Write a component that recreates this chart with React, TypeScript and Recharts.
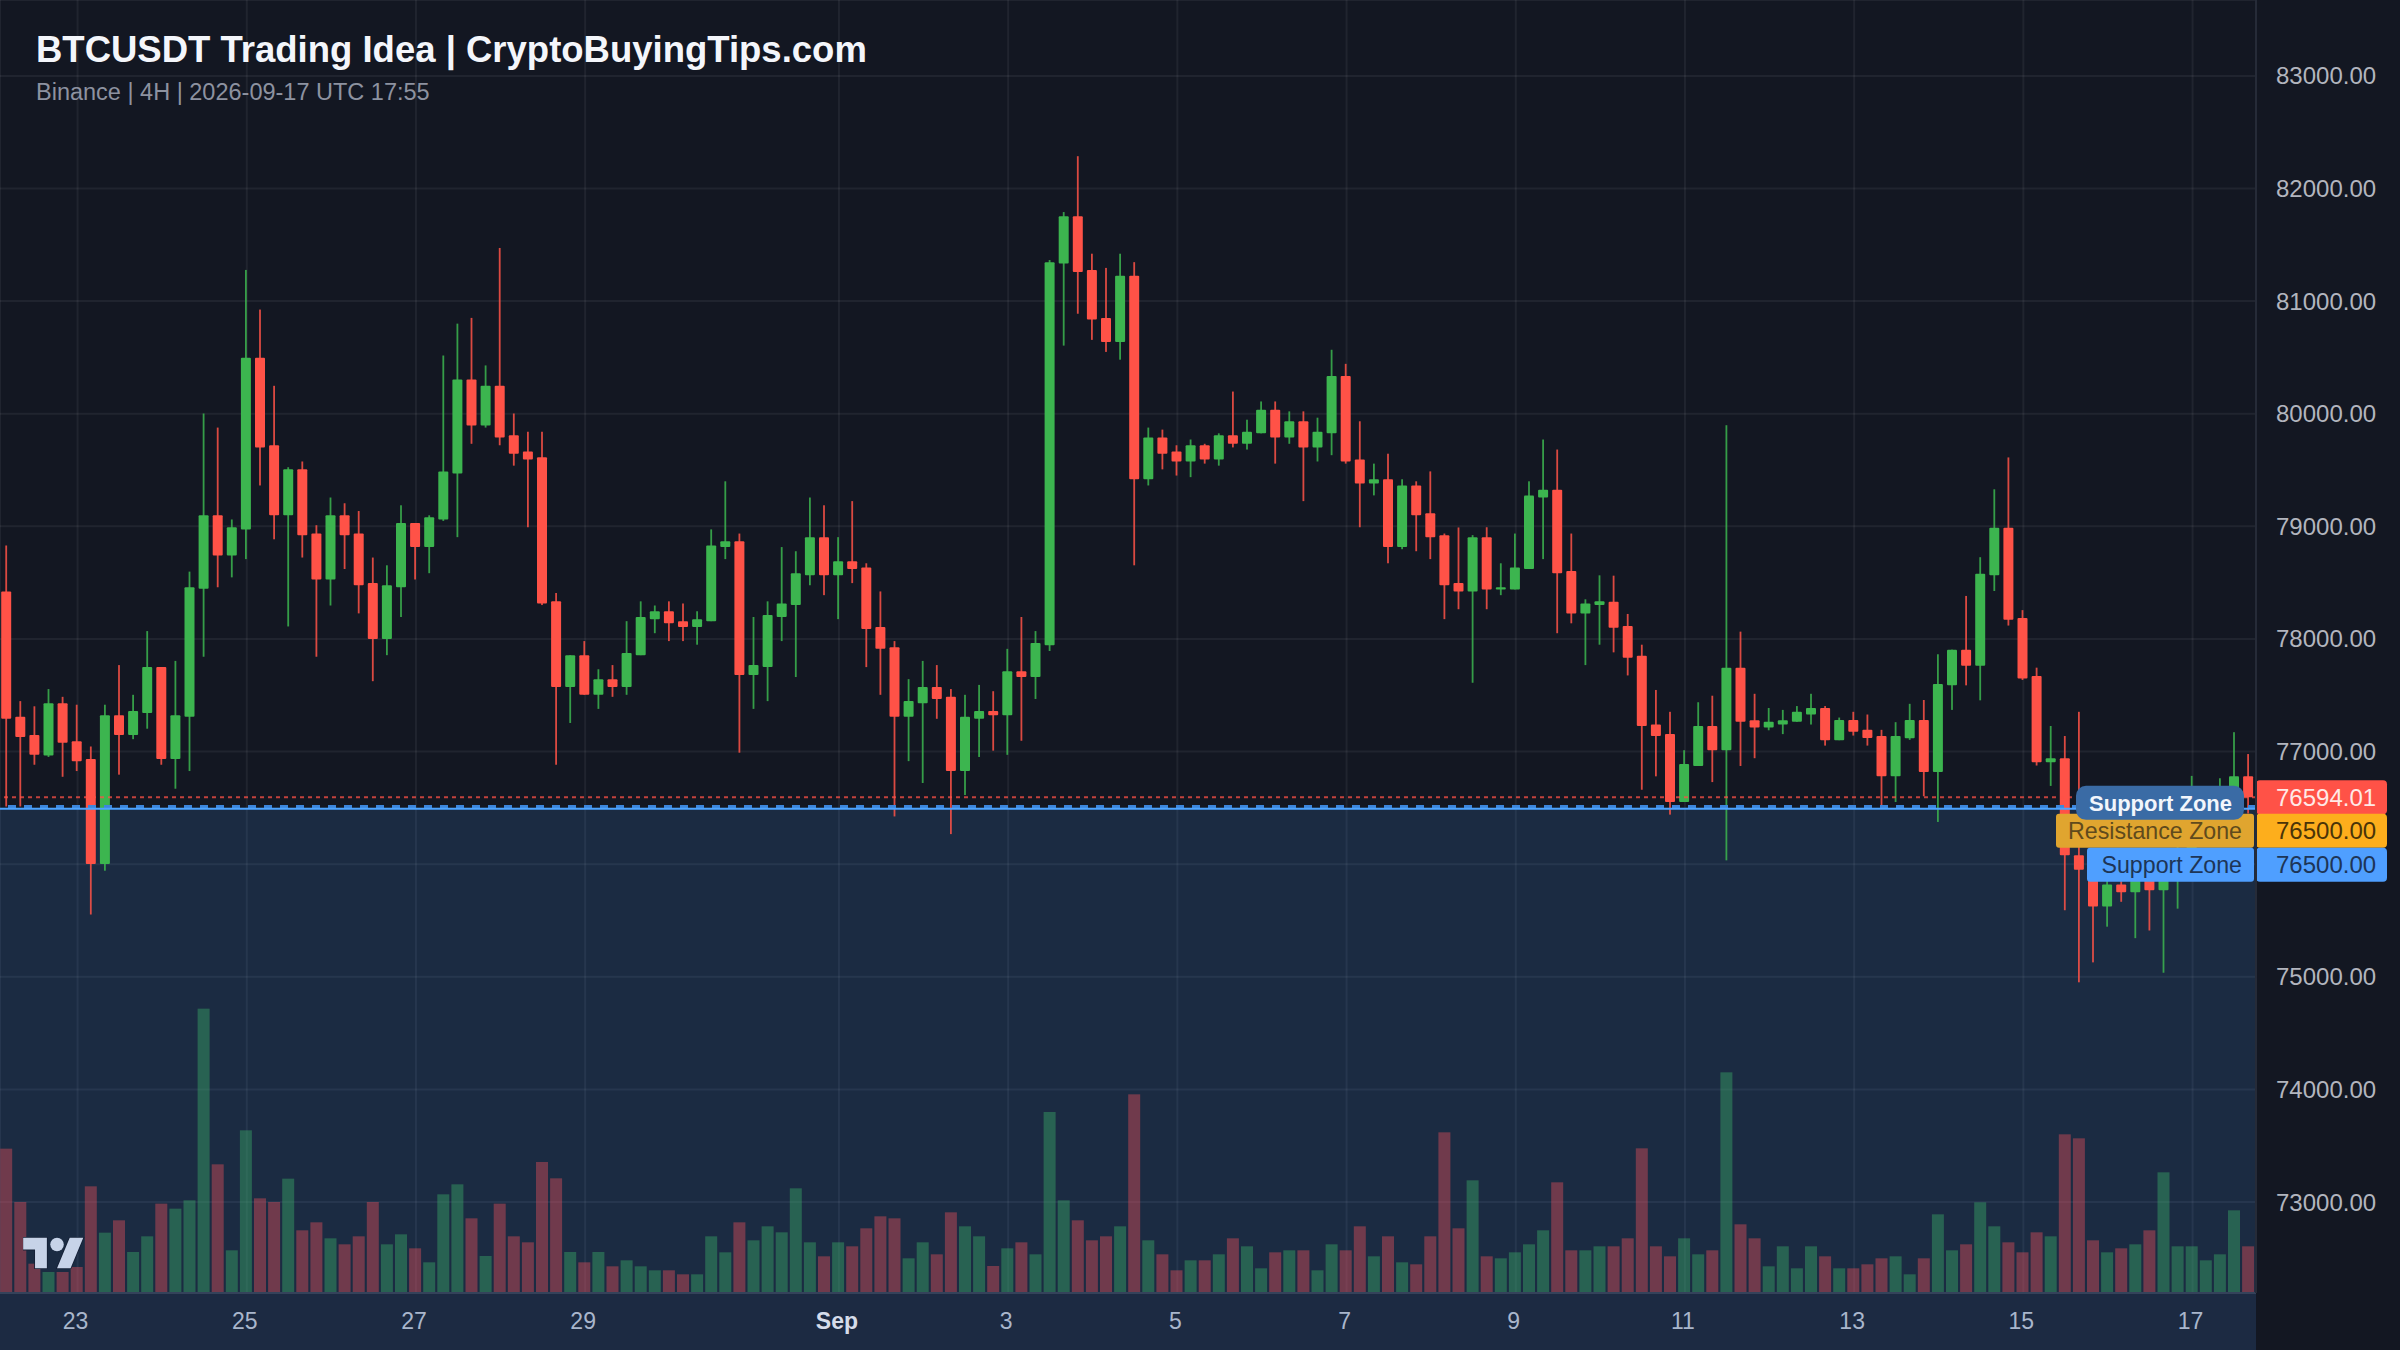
import { Bar, CartesianGrid, ComposedChart, ReferenceArea, ReferenceLine, XAxis, YAxis } from "recharts";

const openPrices = [
  78422, 77309, 77147, 76966, 77430, 77092, 76934, 76002, 77323, 77147,
  77342, 77750, 76934, 77309, 78445, 79098, 78742, 78973, 80498, 79720,
  79098, 79506, 78936, 78528, 79098, 78936, 78496, 78000, 78459, 79029,
  78816, 79061, 79469, 80304, 79896, 80248, 79808, 79664, 79613, 78334,
  77574, 77856, 77504, 77643, 77574, 77856, 78176, 78246, 78158, 78107,
  78158, 78816, 78867, 77680, 77750, 78195, 78301, 78565, 78904, 78565,
  78691, 78635, 78107, 77926, 77309, 77430, 77574, 77486, 76827, 77291,
  77360, 77323, 77713, 77662, 77944, 81333, 81754, 81277, 80851, 80637,
  81226, 79418, 79789, 79664, 79576, 79720, 79594, 79808, 79733, 79826,
  80035, 79789, 79933, 79701, 79826, 80336, 79594, 79381, 79418, 78816,
  79363, 79117, 78922, 78496, 78422, 78904, 78440, 78440, 78621, 79256,
  79326, 78603, 78227, 78301, 78331, 78116, 77850, 77240, 77155, 76552,
  76872, 77227, 77012, 77745, 77278, 77213, 77240, 77264, 77329, 77387,
  77101, 77281, 77193, 77138, 76780, 77118, 77281, 76818, 77588, 77905,
  77762, 78566, 78988, 78187, 77670, 76906, 76941, 76080, 75950, 75625,
  75820, 75751, 75900, 75769, 75900, 76050, 76450, 76520, 76560, 76780,
];
const closePrices = [
  77291, 77129, 76971, 77430, 77078, 76915, 76002, 77323, 77147, 77360,
  77750, 76934, 77323, 78459, 79098, 78742, 78992, 80498, 79701, 79098,
  79506, 78922, 78528, 79098, 78922, 78477, 78000, 78477, 79029, 78816,
  79080, 79488, 80304, 79896, 80248, 79789, 79645, 79594, 78315, 77574,
  77856, 77504, 77643, 77574, 77875, 78195, 78246, 78139, 78107, 78176,
  78830, 78867, 77680, 77768, 78213, 78315, 78584, 78904, 78565, 78691,
  78621, 78088, 77912, 77309, 77448, 77574, 77467, 76827, 77309, 77360,
  77323, 77713, 77662, 77963, 81346, 81754, 81258, 80837, 80637, 81226,
  79418, 79789, 79645, 79576, 79720, 79594, 79808, 79733, 79840, 80035,
  79789, 79933, 79701, 79840, 80336, 79576, 79381, 79418, 78816, 79363,
  79098, 78904, 78477, 78422, 78904, 78440, 78459, 78635, 79275, 79326,
  78584, 78227, 78315, 78334, 78099, 77833, 77227, 77138, 76552, 76889,
  77227, 77012, 77745, 77264, 77213, 77264, 77278, 77353, 77387, 77101,
  77281, 77176, 77121, 76780, 77138, 77281, 76818, 77601, 77905, 77762,
  78579, 78988, 78170, 77649, 76906, 76941, 76080, 75950, 75625, 75820,
  75751, 75900, 75769, 75900, 76050, 76450, 76520, 76560, 76780, 76594.01,
];
const highPrices = [
  78830, 77448, 77402, 77555, 77486, 77416, 77045, 77416, 77768, 77504,
  78070, 77750, 77805, 78598, 80002, 79877, 79061, 81277, 80925, 80248,
  79525, 79576, 79010, 79256, 79205, 79136, 78723, 78654, 79187, 79029,
  79098, 80517, 80800, 80851, 80429, 81472, 80002, 79840, 79840, 78408,
  77856, 77981, 77731, 77768, 78158, 78334, 78297, 78334, 78315, 78246,
  78973, 79400, 78936, 78195, 78334, 78816, 78779, 79256, 79187, 78904,
  79224, 78672, 78422, 77981, 77643, 77805, 77768, 77555, 77504, 77592,
  77536, 77912, 78195, 78070, 81365, 81791, 82287, 81421, 81295, 81421,
  81346, 79877, 79859, 79720, 79771, 79733, 79826, 80197, 79947, 80109,
  80109, 80021, 80021, 79965, 80568, 80443, 79933, 79557, 79645, 79418,
  79400, 79488, 78936, 78990, 78922, 78992, 78672, 78936, 79400, 79771,
  79682, 78936, 78352, 78565, 78562, 78222, 77949, 77547, 77353, 77012,
  77438, 77496, 79898, 78065, 77513, 77387, 77370, 77404, 77513, 77404,
  77302, 77353, 77329, 77193, 77261, 77424, 77458, 77864, 77905, 78382,
  78726, 79329, 79612, 78256, 77745, 77227, 77138, 77353, 76000, 75860,
  75850, 75950, 75950, 76000, 76200, 76784, 76688, 76763, 77172, 76978,
];
const lowPrices = [
  76512, 76512, 76883, 76952, 76776, 76827, 75553, 75942, 76795, 77110,
  77203, 76883, 76670, 76827, 77842, 78459, 78547, 78709, 79363, 78885,
  78111, 78723, 77842, 78297, 78621, 78227, 77625, 77856, 78195, 78528,
  78584, 79048, 78904, 79733, 79877, 79720, 79539, 78992, 78301, 76883,
  77254, 77504, 77379, 77486, 77504, 77856, 78051, 77981, 77981, 77949,
  78158, 78709, 76990, 77379, 77448, 77981, 77662, 78477, 78389, 78176,
  78496, 77750, 77504, 76424, 76915, 76721, 77291, 76267, 76614, 76952,
  77008, 76971, 77096, 77467, 77893, 80605, 80888, 80656, 80549, 80480,
  78654, 79363, 79506, 79451, 79437, 79557, 79539, 79701, 79682, 79826,
  79557, 79733, 79224, 79576, 79632, 79557, 78992, 79275, 78672, 78797,
  78779, 78709, 78176, 78264, 77611, 78264, 78389, 78440, 78621, 78709,
  78051, 78139, 77768, 77949, 77881, 77676, 76661, 76780, 76440, 76552,
  76872, 76729, 76034, 76872, 76941, 77189, 77155, 77264, 77240, 77053,
  77101, 77142, 77053, 76508, 76552, 77104, 76603, 76375, 77370, 77588,
  77455, 78426, 78119, 77636, 76876, 76695, 75591, 74951, 75128, 75445,
  75666, 75343, 75411, 75036, 75605, 75950, 76400, 76450, 76480, 76450,
];
const volumes = [
  433, 273, 88, 63, 63, 78, 320, 181, 218, 123, 170, 268, 253, 278, 853, 386,
  128, 488, 284, 273, 343, 188, 212, 164, 146, 170, 273, 146, 176, 134, 92, 296,
  326, 224, 111, 268, 170, 152, 393, 344, 123, 92, 123, 80, 98, 80, 68, 68,
  56, 56, 170, 122, 212, 158, 200, 182, 314, 152, 110, 152, 140, 194, 230, 224,
  104, 152, 116, 242, 200, 170, 81, 134, 152, 116, 543, 278, 218, 158, 170, 200,
  596, 158, 116, 68, 98, 98, 116, 164, 140, 74, 122, 128, 128, 68, 146, 128,
  200, 110, 170, 92, 86, 170, 482, 194, 338, 110, 104, 122, 146, 188, 332, 128,
  128, 140, 140, 164, 434, 140, 110, 164, 116, 128, 662, 206, 164, 80, 140, 74,
  140, 110, 74, 74, 86, 104, 110, 56, 104, 236, 128, 146, 272, 200, 152, 122,
  182, 170, 476, 464, 158, 122, 134, 146, 188, 362, 140, 140, 98, 116, 248, 140,
];

const priceTicks = [73000, 74000, 75000, 76000, 77000, 78000, 79000, 80000, 81000, 82000, 83000];
const dayTicks = ["08-23 00", "08-25 00", "08-27 00", "08-29 00", "09-01 00", "09-03 00", "09-05 00", "09-07 00", "09-09 00", "09-11 00", "09-13 00", "09-15 00", "09-17 00"];
const dayLabels = ["23", "25", "27", "29", "Sep", "3", "5", "7", "9", "11", "13", "15", "17"];

const lastPrice = 76594.01;
const zonePrice = 76500;

const UP = "#3cb54f";
const DOWN = "#ff5247";
const FONT = '"Liberation Sans", Arial, sans-serif';

const pad = (n: number) => String(n).padStart(2, "0");
const data = openPrices.map((open, i) => {
  const d = new Date(Date.UTC(2026, 7, 22, 4 + i * 4));
  return {
    time: `${pad(d.getUTCMonth() + 1)}-${pad(d.getUTCDate())} ${pad(d.getUTCHours())}`,
    open,
    close: closePrices[i],
    high: highPrices[i],
    low: lowPrices[i],
    range: [lowPrices[i], highPrices[i]],
    volume: volumes[i],
  };
});

function Candle(props: any) {
  const { x, y, width, height, payload } = props;
  const top = Math.min(y, y + height);
  const span = Math.abs(height);
  const perUnit = span / (payload.high - payload.low);
  const cx = x + width / 2 - 0.8;
  const up = payload.close >= payload.open;
  const color = up ? UP : DOWN;
  const bodyTop = top + (payload.high - Math.max(payload.open, payload.close)) * perUnit;
  const bodyH = Math.max(Math.abs(payload.open - payload.close) * perUnit, 2);
  return (
    <g>
      <rect x={cx - 0.9} y={top} width={1.8} height={span} fill={color} opacity={0.85} />
      <rect x={cx - 5} y={bodyTop} width={10} height={bodyH} rx={1} fill={color} />
    </g>
  );
}

function VolumeBar(props: any) {
  const { x, y, width, height, payload } = props;
  const up = payload.close >= payload.open;
  return <rect x={x - 0.8} y={y} width={width} height={height} fill={up ? "#3caf69" : "#e84e5a"} fillOpacity={0.42} />;
}

function XTick(props: any) {
  const { x, y, payload } = props;
  const label = dayLabels[dayTicks.indexOf(payload.value)];
  const bold = label === "Sep";
  return (
    <text x={x - 2} y={y + 28} textAnchor="middle" fontFamily={FONT} fontSize={23} fontWeight={bold ? 700 : 400} fill={bold ? "#d5dcea" : "#a9b6cc"}>
      {label}
    </text>
  );
}

// nudges a zone line off the shared price so the dashes sit just above the solid line
function ShiftedLine(props: any) {
  const { x1, x2, y1, y2, shift, stroke, strokeWidth, strokeDasharray, opacity } = props;
  return <line x1={x1} x2={x2} y1={y1 + shift} y2={y2 + shift} stroke={stroke} strokeWidth={strokeWidth} strokeDasharray={strokeDasharray} opacity={opacity} />;
}

function PriceTag(props: any) {
  const { viewBox, dy, bg, color, text } = props;
  const cy = viewBox.y + dy;
  const left = viewBox.x + viewBox.width;
  return (
    <g>
      <rect x={left} y={cy - 17} width={131} height={34} rx={4} fill={bg} />
      <text x={left + 20} y={cy + 8.5} fontFamily={FONT} fontSize={24} fill={color}>
        {text}
      </text>
    </g>
  );
}

function ZoneTag(props: any) {
  const { viewBox, dy, bg, color, text, width, right, bold, rx } = props;
  const cy = viewBox.y + dy;
  const edge = viewBox.x + viewBox.width - right;
  return (
    <g>
      <rect x={edge - width} y={cy - 17} width={width} height={34} rx={rx} fill={bg} />
      <text x={edge - 12} y={cy + 8} textAnchor="end" fontFamily={FONT} fontSize={bold ? 22 : 23.2} fontWeight={bold ? 700 : 400} fill={color}>
        {text}
      </text>
    </g>
  );
}

export default function App() {
  return (
    <div style={{ position: "fixed", left: 0, top: 0, width: 2400, height: 1350, background: "#131722", overflow: "hidden" }}>
      <div style={{ position: "absolute", left: 0, top: 1293, width: 2256, height: 57, background: "#1c2a42" }} />
      <ComposedChart
        width={2400}
        height={1350}
        data={data}
        margin={{ top: 0, right: 0, bottom: 0, left: 0 }}
        barGap={-12}
        barSize={12}
        style={{ position: "absolute", left: 0, top: 0 }}
      >
        <XAxis
          dataKey="time"
          ticks={dayTicks}
          interval={0}
          height={57}
          tick={<XTick />}
          tickLine={false}
          axisLine={{ stroke: "#34425a", strokeWidth: 2 }}
        />
        <YAxis
          yAxisId="price"
          orientation="right"
          width={144}
          domain={[72192, 83674]}
          ticks={priceTicks}
          allowDataOverflow
          tickFormatter={(v: number) => (v === 76000 ? "" : v.toFixed(2))}
          tick={{ fontSize: 24, fill: "#b2b5be", fontFamily: FONT }}
          tickLine={false}
          tickMargin={14}
          axisLine={{ stroke: "#262b38", strokeWidth: 2 }}
        />
        <YAxis yAxisId="volume" hide domain={[0, 3879]} />
        <CartesianGrid yAxisId="price" stroke="#ffffff" strokeOpacity={0.06} strokeWidth={2} />
        <Bar yAxisId="volume" dataKey="volume" shape={VolumeBar} isAnimationActive={false} />
        <Bar yAxisId="price" dataKey="range" shape={Candle} isAnimationActive={false} />
        <ReferenceArea yAxisId="price" y1={72192} y2={zonePrice} fill="rgb(77,163,255)" fillOpacity={0.15} stroke="none" />
        <ReferenceLine yAxisId="price" y={lastPrice} stroke="#ff5247" strokeWidth={2} strokeDasharray="4 4" strokeOpacity={0.75} />
        <ReferenceLine
          yAxisId="price"
          y={zonePrice}
          shape={(p: any) => <ShiftedLine {...p} shift={-1.4} stroke="#3d86dc" strokeWidth={3} strokeDasharray="8 8" />}
        />
        <ReferenceLine
          yAxisId="price"
          y={zonePrice}
          shape={(p: any) => <ShiftedLine {...p} shift={0.8} stroke="#4da3ff" strokeWidth={2} />}
        />
        <ReferenceLine
          yAxisId="price"
          y={lastPrice}
          stroke="none"
          label={(p: any) => <PriceTag {...p} dy={0} bg="#ff5247" color="#ffe9e6" text="76594.01" />}
        />
        <ReferenceLine
          yAxisId="price"
          y={zonePrice}
          stroke="none"
          label={(p: any) => (
            <g>
              <ZoneTag {...p} dy={23} bg="#e0a52f" color="#5f4a1c" text="Resistance Zone" width={198} right={2} rx={3} />
              <PriceTag {...p} dy={23} bg="#fdae1c" color="#4a3408" text="76500.00" />
              <ZoneTag {...p} dy={57} bg="#4f9fff" color="#1d3557" text="Support Zone" width={167} right={2} rx={3} />
              <PriceTag {...p} dy={57} bg="#4f9fff" color="#1d3557" text="76500.00" />
              <ZoneTag {...p} dy={-5} bg="#3a6ba5" color="#f2f6fc" text="Support Zone" width={168} right={12} rx={10} bold />
            </g>
          )}
        />
      </ComposedChart>
      <div style={{ position: "absolute", left: 36, top: 29, fontFamily: FONT, fontSize: 36.5, fontWeight: 700, color: "#f4f6fb", whiteSpace: "nowrap" }}>
        BTCUSDT Trading Idea | CryptoBuyingTips.com
      </div>
      <div style={{ position: "absolute", left: 36, top: 79, fontFamily: FONT, fontSize: 23.5, color: "#8d92a0", whiteSpace: "nowrap" }}>
        Binance | 4H | 2026-09-17 UTC 17:55
      </div>
      <svg style={{ position: "absolute", left: 23, top: 1231 }} width={64} height={44} viewBox="0 0 37.6 26">
        <path d="M14 22H7V11H0V4h14v18zM28 22h-8l7.5-18h8L28 22z" fill="#c7d3e8" stroke="#152036" strokeWidth={1} paintOrder="stroke" />
        <circle cx={20} cy={8} r={4} fill="#c7d3e8" />
      </svg>
    </div>
  );
}
